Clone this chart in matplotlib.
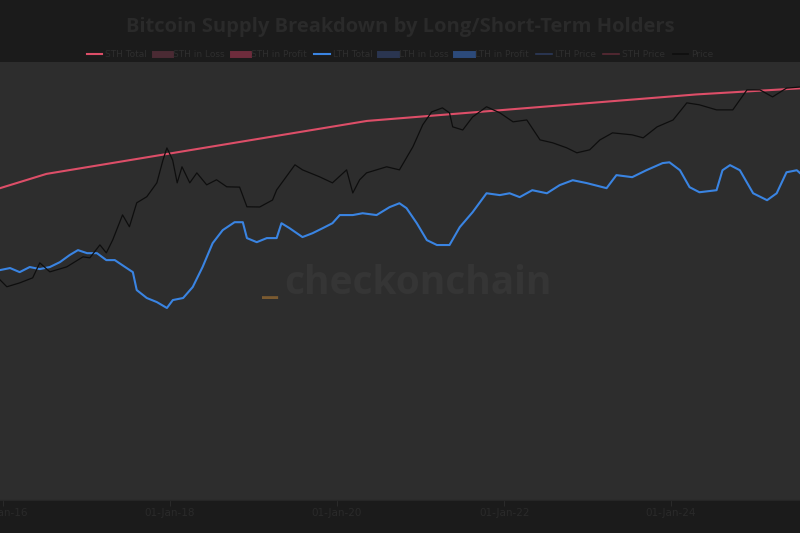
import matplotlib
matplotlib.use("Agg")
import matplotlib.pyplot as plt
import matplotlib.dates as mdates
from matplotlib.lines import Line2D
import pandas as pd

# total supply (STH Total line), million BTC
supply_dates = ["2015-12-19", "2016-07-09", "2020-05-11", "2024-04-20", "2025-07-18"]
supply_vals = [15.0, 15.7, 18.3, 19.6, 19.9]

# long-term holder supply, million BTC
lth_dates = ["2015-12-19", "2016-02-01", "2016-03-14", "2016-04-27", "2016-06-10", "2016-07-24",
             "2016-09-06", "2016-10-19", "2016-11-24", "2017-01-03", "2017-02-15", "2017-03-28",
             "2017-05-04", "2017-06-25", "2017-07-22", "2017-08-08", "2017-09-21", "2017-11-04",
             "2017-12-18", "2018-01-13", "2018-02-27", "2018-04-10", "2018-05-23", "2018-07-06",
             "2018-08-19", "2018-10-10", "2018-11-15", "2018-12-03", "2019-01-15", "2019-02-28",
             "2019-04-12", "2019-05-03", "2019-06-07", "2019-08-03", "2019-09-16", "2019-10-31",
             "2019-12-12", "2020-01-13", "2020-03-10", "2020-04-22", "2020-06-22", "2020-08-18",
             "2020-09-30", "2020-10-31", "2020-12-15", "2021-01-28", "2021-03-13", "2021-05-07",
             "2021-06-21", "2021-08-16", "2021-10-16", "2021-12-13", "2022-01-25", "2022-03-10",
             "2022-05-04", "2022-07-07", "2022-09-01", "2022-10-28", "2022-12-28", "2023-03-25",
             "2023-05-07", "2023-07-15", "2023-09-15", "2023-11-25", "2023-12-25", "2024-02-09",
             "2024-03-22", "2024-05-04", "2024-07-18", "2024-08-13", "2024-09-15", "2024-10-28",
             "2024-12-25", "2025-02-24", "2025-04-07", "2025-05-20", "2025-07-04", "2025-07-18"]
lth_vals = [10.98, 11.08, 10.88, 11.13, 11.03, 11.13,
            11.37, 11.72, 11.96, 11.81, 11.81, 11.47,
            11.47, 11.08, 10.88, 10.0, 9.61, 9.41,
            9.12, 9.51, 9.61, 10.15, 11.13, 12.30,
            12.94, 13.33, 13.33, 12.55, 12.35, 12.55,
            12.55, 13.28, 13.04, 12.60, 12.79, 13.04,
            13.28, 13.68, 13.68, 13.77, 13.68, 14.07,
            14.26, 14.02, 13.28, 12.45, 12.21, 12.21,
            13.09, 13.82, 14.75, 14.66, 14.75, 14.56,
            14.90, 14.75, 15.15, 15.39, 15.25, 15.0,
            15.64, 15.54, 15.88, 16.23, 16.27, 15.88,
            15.05, 14.80, 14.90, 15.88, 16.13, 15.88,
            14.75, 14.41, 14.75, 15.78, 15.88, 15.74]

# BTC price, USD
price_dates = ["2015-12-19", "2016-01-18", "2016-03-14", "2016-05-10", "2016-06-10", "2016-07-24",
               "2016-10-06", "2016-12-16", "2017-01-15", "2017-02-28", "2017-03-28", "2017-04-25",
               "2017-06-07", "2017-07-07", "2017-08-08", "2017-09-21", "2017-11-04", "2017-12-01",
               "2017-12-18", "2018-01-12", "2018-02-01", "2018-02-22", "2018-03-28", "2018-04-28",
               "2018-06-10", "2018-07-23", "2018-09-06", "2018-11-01", "2018-12-03", "2019-01-28",
               "2019-03-25", "2019-04-12", "2019-05-24", "2019-07-01", "2019-08-03", "2019-10-16",
               "2019-12-12", "2020-02-12", "2020-03-10", "2020-04-09", "2020-05-09", "2020-08-05",
               "2020-09-30", "2020-11-28", "2021-01-10", "2021-02-18", "2021-04-06", "2021-05-07",
               "2021-05-21", "2021-07-04", "2021-08-16", "2021-10-16", "2021-12-13", "2022-02-09",
               "2022-04-10", "2022-06-07", "2022-08-01", "2022-10-01", "2022-11-15", "2023-01-10",
               "2023-02-24", "2023-04-20", "2023-07-15", "2023-09-01", "2023-11-01", "2024-01-10",
               "2024-03-10", "2024-05-04", "2024-07-18", "2024-09-27", "2024-11-28", "2025-01-24",
               "2025-03-20", "2025-05-20", "2025-07-18"]
price_vals = [405, 330, 370, 430, 670, 513,
              595, 800, 777, 1140, 900, 1320,
              2770, 1950, 3960, 4740, 7150, 14100,
              20100, 14100, 7150, 11500, 7150, 9600,
              6740, 7830, 6360, 6300, 3520, 3500,
              4300, 5800, 8570, 12200, 10500, 8570,
              7150, 10500, 5300, 7830, 9600, 11500,
              10500, 20800, 39900, 58400, 65800, 56800,
              37500, 34200, 50200, 68000, 56800, 43500,
              46000, 25500, 23400, 20200, 17400, 19000,
              25500, 31400, 29600, 27100, 37500, 46000,
              76300, 72000, 62000, 62000, 112000, 112000,
              91000, 118000, 122000]

legend_labels = ["STH Total", "STH in Loss", "STH in Profit", "LTH Total", "LTH in Loss",
                 "LTH in Profit", "LTH Price", "STH Price", "Price"]

outer_bg = "#1b1b1b"
plot_bg = "#2d2d2d"
dim_text = "#2e2e2e"
red = "#dd4e68"
blue = "#3a84e2"

fig = plt.figure(figsize=(8, 5.33), dpi=100, facecolor=outer_bg)
ax = fig.add_axes([0, 0.062, 1, 0.822])
ax.set_facecolor(plot_bg)
ax2 = ax.twinx()

sd = pd.to_datetime(supply_dates)
ld = pd.to_datetime(lth_dates)
pdts = pd.to_datetime(price_dates)

ax.plot(sd, supply_vals, color=red, lw=1.5)
ax.plot(ld, lth_vals, color=blue, lw=1.5)
ax2.plot(pdts, price_vals, color="#0e0e0e", lw=0.9)

ax.set_ylim(-0.3, 21.2)
ax2.set_yscale("log")
ax2.set_ylim(0.6, 257000)
ax.set_xlim(pd.Timestamp("2015-12-19"), pd.Timestamp("2025-07-18"))

ax.xaxis.set_major_locator(mdates.YearLocator(2))
ax.xaxis.set_major_formatter(mdates.DateFormatter("%d-%b-%y"))
ax.tick_params(axis="x", colors="#2a2a2a", labelsize=7.5, length=4, pad=2)
ax.tick_params(axis="y", left=False, labelleft=False)
ax2.tick_params(axis="y", right=False, labelright=False)
for a in (ax, ax2):
    for side in ("top", "left", "right"):
        a.spines[side].set_visible(False)
    a.spines["bottom"].set_color("#262626")

handles = [
    Line2D([], [], color=red, lw=1.5),
    Line2D([], [], color="#4a2a33", lw=5),
    Line2D([], [], color="#6e2c3c", lw=5),
    Line2D([], [], color=blue, lw=1.5),
    Line2D([], [], color="#2a3550", lw=5),
    Line2D([], [], color="#2c4a7a", lw=5),
    Line2D([], [], color="#2c3a5a", lw=1.2),
    Line2D([], [], color="#5a2a35", lw=1.2),
    Line2D([], [], color="#0e0e0e", lw=1.2),
]
fig.legend(handles, legend_labels, loc="center", bbox_to_anchor=(0.5, 0.898), ncol=9,
           frameon=False, fontsize=6.5, labelcolor=dim_text, handlelength=1.7,
           handletextpad=0.35, columnspacing=0.85)

fig.text(0.5, 0.949, "Bitcoin Supply Breakdown by Long/Short-Term Holders", ha="center",
         va="center", fontsize=14.5, fontweight="bold", color="#2a2a2a", family="Open Sans")

# watermark
fig.text(0.522, 0.468, "checkonchain", ha="center", va="center", fontsize=28,
         fontweight="bold", color="#353535", family="Open Sans")
fig.text(0.337, 0.47, "_", ha="center", va="center", fontsize=28,
         fontweight="bold", color="#7a5a30", family="Open Sans")

fig.savefig("out.png", dpi=100, facecolor=outer_bg)
